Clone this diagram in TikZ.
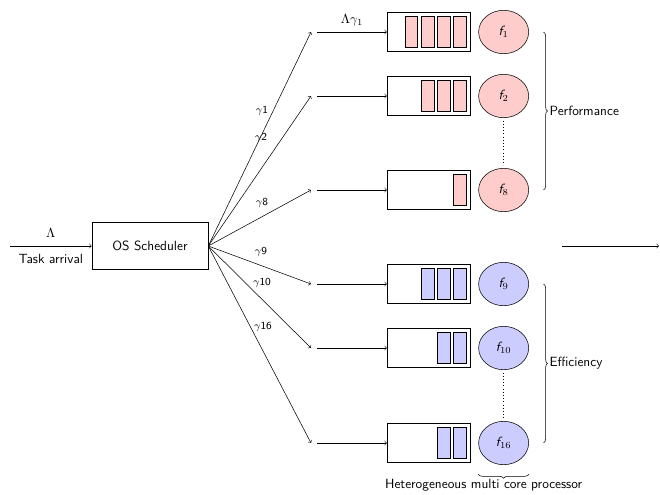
\documentclass[tikz,border=0pt]{standalone}
\renewcommand{\familydefault}{\sfdefault}
\usepackage{sansmath}
\sansmath
\usepackage{tikz}
\usetikzlibrary{positioning,shapes.geometric,decorations.pathreplacing}
\tikzstyle{block} = [draw, rectangle, minimum height=35pt, minimum width=87pt]
\tikzstyle{queue} = [draw, rectangle, minimum height=29pt, minimum width=62pt, inner sep=0pt]
\tikzstyle{slot} = [draw, rectangle, minimum height=23pt, minimum width=9.5pt, inner sep=0pt]
\tikzstyle{core} = [draw, ellipse, minimum width=37.5pt, minimum height=32.5pt, inner sep=0pt]
\tikzstyle{rate} = [font=\footnotesize]
\tikzstyle{brc} = [decorate, decoration={brace, amplitude=3pt}]

\begin{document}
\begin{tikzpicture}[x=0.75pt, y=-0.75pt]
		\useasboundingbox (0,0) rectangle (660,494);
		\node [block] (sched) at (150,246) {OS Scheduler};
		\coordinate (arrival) at (10,246);
		\draw [->] (arrival) -- node [above=3pt] (lam) {$\Lambda$} node [below=3pt] (task) {Task arrival} (sched);

		% one row per core: name/y/queued tasks/colour
		\foreach \n/\y/\k/\col in {1/32/4/red, 2/96/3/red, 8/190/1/red, 9/284/3/blue, 10/348/2/blue, 16/443/2/blue} {
			\coordinate (t\n) at (311,\y);
			\coordinate (s\n) at (317,\y);
			\node [queue] (q\n) at (428.5,\y) {};
			\node [core, fill=\col!20, right=6.2pt of q\n] (f\n) {{\itshape f}$_{\n}$};
			\foreach \i in {1,...,\k}
				\node [slot, fill=\col!20] (q\n-\i) at ([xshift={-7.6pt-(\i-1)*12.2pt}]q\n.east) {};
			\draw [->] (sched.east) -- (t\n);
		}
		\draw [->] (s1) -- node [above=1pt] (lg1) {$\Lambda\gamma_1$} (q1);
		\foreach \n in {2,8,9,10,16}
			\draw [->] (s\n) -- (q\n);

		\node [rate] (g1) at (262,111) {$\gamma$1};
		\node [rate] (g2) at (261,138) {$\gamma$2};
		\node [rate] (g8) at (262,203) {$\gamma$8};
		\node [rate] (g9) at (261,252) {$\gamma$9};
		\node [rate] (g10) at (262,283) {$\gamma$10};
		\node [rate] (g16) at (263,327) {$\gamma$16};

		\draw [dotted] ([yshift=-2pt]f2.south) -- ([yshift=2pt]f8.north);
		\draw [dotted] ([yshift=-2pt]f10.south) -- ([yshift=2pt]f16.north);

		\draw [brc] ([xshift=11pt]f1.east) -- ([xshift=11pt]f8.east) node [midway, right=1pt] (perf) {Performance};
		\draw [brc] ([xshift=11pt]f9.east) -- ([xshift=11pt]f16.east) node [midway, right=1pt] (eff) {Efficiency};
		\draw [brc] ([yshift=-7pt]f16.east |- f16.south) -- ([yshift=-7pt]f16.west |- f16.south) node [midway, below=0pt, xshift=-15pt] (hmcp) {Heterogeneous multi core processor};

		\coordinate (outa) at (562,246);
		\coordinate (outb) at (659,246);
		\draw [->] (outa) -- (outb);
	\end{tikzpicture}
\end{document}
